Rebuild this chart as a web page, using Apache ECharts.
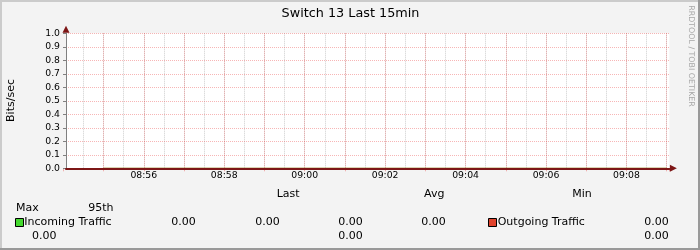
<!DOCTYPE html>
<html><head><meta charset="utf-8">
<script src="https://cdn.jsdelivr.net/npm/echarts@6/dist/echarts.min.js"></script>
<style>html,body{margin:0;padding:0;background:#f3f3f3}#c{width:700px;height:250px}</style>
</head><body><div id="c"></div>
<script>
// ---- data ----
const chartTitle = 'Switch 13 Last 15min';
const yAxisName = 'Bits/sec';
const watermark = 'RRDTOOL / TOBI OETIKER';
const rangeStart = '08:54:04';
const rangeEnd = '09:09:04';
const gridOrigin = '08:54:00';
const times = ['08:55','08:56','08:57','08:58','08:59','09:00','09:01','09:02','09:03','09:04','09:05','09:06','09:07','09:08','09:09'];
const incoming = [0,0,0,0,0,0,0,0,0,0,0,0,0,0,0];
const outgoing = [0,0,0,0,0,0,0,0,0,0,0,0,0,0,0];
const xTickLabels = ['08:56','08:58','09:00','09:02','09:04','09:06','09:08'];
const yTickLabels = ['0.0','0.1','0.2','0.3','0.4','0.5','0.6','0.7','0.8','0.9','1.0'];
const seriesNames = ['Incoming Traffic','Outgoing Traffic'];
const headerRow1 = ['Last','Avg','Min'];
const headerRow2 = ['Max','95th'];
const incomingStats = ['0.00','0.00','0.00','0.00','0.00'];
const outgoingStats = ['0.00','0.00','0.00'];

// ---- helpers / layout ----
function toSec(s){const p=s.split(':').map(Number);return p[0]*3600+p[1]*60+(p[2]||0);}
const startSec = toSec(rangeStart), endSec = toSec(rangeEnd), originSec = toSec(gridOrigin);
const FONT = 'DejaVu Sans';
const plotLeft = 66, plotTop = 33.3, plotW = 603.4, plotH = 135;
const pxps = plotW / (endSec - startSec);
const gridBLeft = plotLeft - (startSec - originSec) * pxps;
const gridBW = (endSec - originSec) * pxps;
const DARKRED = '#7d1616';
const PINK = 'rgba(235,80,80,0.42)';
const GRAY = '#cdcdcd';
const colors = ['#44d92e', '#e0432c'];

const chart = echarts.init(document.getElementById('c'), null, {renderer:'canvas'});

const txt = (x, y, s, o) => Object.assign({type:'text', x, y, silent:true,
  style: Object.assign({text:s, font: '11px "DejaVu Sans"', fill:'#000', align:'left', verticalAlign:'middle'}, (o||{}))});

const graphics = [
  {type:'rect', shape:{x:0,y:0,width:700,height:2}, style:{fill:'#cbcbcb'}, silent:true},
  {type:'rect', shape:{x:0,y:0,width:2,height:250}, style:{fill:'#cbcbcb'}, silent:true},
  {type:'rect', shape:{x:698,y:0,width:2,height:250}, style:{fill:'#999999'}, silent:true},
  {type:'rect', shape:{x:0,y:248,width:700,height:2}, style:{fill:'#999999'}, silent:true},
  txt(350.5, 13.3, chartTitle, {font:'12.8px "DejaVu Sans"', align:'center'}),
  Object.assign(txt(11, 100.5, yAxisName, {align:'center'}), {rotation: Math.PI/2}),
  Object.assign(txt(691, 56, watermark, {align:'center', font:'7.9px "DejaVu Sans"', fill:'#a6a6a6'}), {rotation: -Math.PI/2}),
];
const h1x = [276.7, 424, 572.3];
headerRow1.forEach((s,i)=>graphics.push(txt(h1x[i], 193.7, s)));
const h2x = [16, 88.3];
headerRow2.forEach((s,i)=>graphics.push(txt(h2x[i], 208.3, s)));
const boxX = [15.5, 488.5], nameX = [24.3, 497.7];
seriesNames.forEach((n,i)=>{
  graphics.push({type:'rect', shape:{x:boxX[i], y:218.5, width:8, height:8}, style:{fill:colors[i], stroke:'#000', lineWidth:1}, silent:true});
  graphics.push(txt(nameX[i], 222, n));
});
const inPos = [[171.3,222],[255.3,222],[338.3,222],[421.3,222],[32,236]];
incomingStats.forEach((s,i)=>graphics.push(txt(inPos[i][0], inPos[i][1], s)));
const outPos = [[644.3,222],[338.3,236],[644.3,236]];
outgoingStats.forEach((s,i)=>graphics.push(txt(outPos[i][0], outPos[i][1], s)));

const lbl = {fontFamily: FONT, fontSize: 9.3, color:'#000'};
const hideAll = {axisLine:{show:false}, axisTick:{show:false}, axisLabel:{show:false}, splitLine:{show:false}};

const option = {
  backgroundColor: '#f3f3f3',
  animation: false,
  textStyle: {fontFamily: FONT},
  grid: [
    {left: plotLeft, top: plotTop, width: plotW, height: plotH, show:true, backgroundColor:'#ffffff', borderWidth:0},
    {left: gridBLeft, top: plotTop, width: gridBW, height: plotH, show:false}
  ],
  xAxis: [
    Object.assign({}, hideAll, {type:'value', gridIndex:0, position:'bottom', offset:0, min:startSec, max:endSec, z:10,
      axisLine:{show:true, onZero:false, symbol:['none','triangle'], symbolSize:[7,7], symbolOffset:[0,4], lineStyle:{color:DARKRED, width:2}}}),
    Object.assign({}, hideAll, {type:'value', gridIndex:1, position:'bottom', offset:0, min:originSec, max:endSec, interval:30, z:1,
      splitLine:{show:true, showMinLine:false, showMaxLine:false, lineStyle:{color:GRAY, width:1, type:[1,1]}}}),
    Object.assign({}, hideAll, {type:'value', gridIndex:1, position:'bottom', offset:0, min:originSec, max:endSec, interval:60, z:2,
      axisTick:{show:true, length:3, inside:false, lineStyle:{color:PINK}},
      splitLine:{show:true, showMinLine:false, showMaxLine:false, lineStyle:{color:PINK, width:1, type:[1,1]}}}),
    Object.assign({}, hideAll, {type:'value', gridIndex:1, position:'bottom', offset:0, min:originSec, max:endSec, interval:120,
      axisLabel:Object.assign({show:true, margin:3, showMinLabel:false, showMaxLabel:false,
        formatter:(v)=>{const l = xTickLabels.find(s=>toSec(s)===v); return l||'';}}, lbl)})
  ],
  yAxis: [
    {type:'value', gridIndex:0, position:'left', offset:0, min:0, max:1, interval:0.1, z:6,
      axisLine:{show:true, onZero:false, lineStyle:{color:'#808080', width:1}},
      axisTick:{show:true, length:3, lineStyle:{color:'#808080'}},
      axisLabel:Object.assign({show:true, margin:6, formatter:(v)=>yTickLabels[Math.round(v*10)]}, lbl),
      splitLine:{show:true, showMinLine:false, lineStyle:{color:PINK, width:1, type:[1,1]}}},
    Object.assign({}, hideAll, {type:'value', gridIndex:0, position:'left', offset:0, min:0, max:1, z:5,
      axisLine:{show:true, onZero:false, symbol:['none','triangle'], symbolSize:[7,7], symbolOffset:[0,4], lineStyle:{color:DARKRED, width:1}}}),
    Object.assign({}, hideAll, {type:'value', gridIndex:1, position:'left', min:0, max:1})
  ],
  series: [
    {name: seriesNames[0], type:'line', xAxisIndex:0, yAxisIndex:0, showSymbol:false, silent:true,
      data: times.map((t,i)=>[toSec(t), incoming[i]]),
      lineStyle:{color:colors[0], width:1}, areaStyle:{color:colors[0], opacity:1}, itemStyle:{color:colors[0]}},
    {name: seriesNames[1], type:'line', xAxisIndex:0, yAxisIndex:0, showSymbol:false, silent:true,
      data: times.map((t,i)=>[toSec(t), outgoing[i]]),
      lineStyle:{color:colors[1], width:1}, itemStyle:{color:colors[1]}}
  ],
  graphic: graphics
};
chart.setOption(option);
</script></body></html>
